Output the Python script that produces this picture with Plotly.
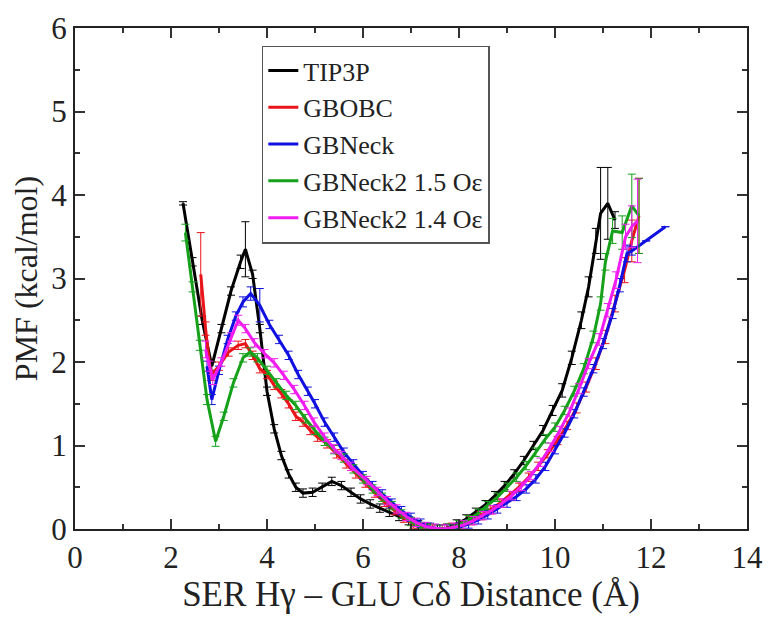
import plotly.graph_objects as go

# ---------------- data ----------------
tip3p_x = [2.25, 2.45, 2.65, 2.85, 3.05, 3.25, 3.45, 3.55, 3.70, 3.85, 4.00, 4.15, 4.30, 4.45, 4.60, 4.75,
           4.95, 5.15, 5.35, 5.55, 5.75, 5.95, 6.15, 6.35, 6.55, 6.75, 6.95, 7.15, 7.35, 7.55, 7.75, 7.95,
           8.15, 8.35, 8.55, 8.75, 8.95, 9.15, 9.35, 9.55, 9.75, 9.95, 10.15, 10.35, 10.55, 10.70, 10.85,
           10.95, 11.10, 11.25]
tip3p_y = [3.90, 3.20, 2.50, 1.95, 2.40, 2.85, 3.20, 3.35, 3.05, 2.40, 1.65, 1.20, 0.88, 0.66, 0.50, 0.43,
           0.44, 0.50, 0.57, 0.52, 0.44, 0.36, 0.30, 0.25, 0.20, 0.15, 0.10, 0.05, 0.02, 0.00, 0.01, 0.06,
           0.12, 0.20, 0.29, 0.40, 0.52, 0.66, 0.82, 1.00, 1.18, 1.42, 1.66, 2.05, 2.50, 2.90, 3.45,
           3.78, 3.90, 3.70]
tip3p_e = [0.02, 0.05, 0.05, 0.05, 0.05, 0.05, 0.08, 0.33, 0.05, 0.05, 0.05, 0.05, 0.05, 0.05, 0.05, 0.05,
           0.05, 0.05, 0.05, 0.05, 0.05, 0.05, 0.05, 0.05, 0.05, 0.05, 0.05, 0.05, 0.05, 0.05, 0.05, 0.05,
           0.05, 0.05, 0.05, 0.05, 0.05, 0.05, 0.05, 0.05, 0.06, 0.06, 0.08, 0.08, 0.10, 0.12, 0.15,
           0.55, 0.43, 0.10]

gbobc_x = [2.62, 2.72, 2.83, 3.00, 3.20, 3.40, 3.55, 3.70, 3.85, 4.00, 4.15, 4.30, 4.45, 4.60, 4.75, 4.90,
           5.05, 5.25, 5.45, 5.65, 5.85, 6.05, 6.25, 6.45, 6.65, 6.85, 7.05, 7.25, 7.45, 7.65, 7.85, 8.05,
           8.25, 8.45, 8.65, 8.85, 9.05, 9.25, 9.45, 9.65, 9.85, 10.05, 10.25, 10.45, 10.65, 10.85, 11.05,
           11.25, 11.45, 11.60, 11.75]
gbobc_y = [3.05, 2.40, 1.84, 1.95, 2.12, 2.20, 2.22, 2.08, 1.92, 1.85, 1.72, 1.62, 1.50, 1.35, 1.28, 1.18,
           1.10, 1.02, 0.90, 0.78, 0.66, 0.55, 0.43, 0.32, 0.22, 0.13, 0.06, 0.02, 0.00, 0.00, 0.02, 0.05,
           0.10, 0.16, 0.23, 0.31, 0.40, 0.50, 0.62, 0.75, 0.90, 1.06, 1.24, 1.45, 1.70, 1.98, 2.30,
           2.70, 3.10, 3.45, 3.75]
gbobc_e = [0.50, 0.08, 0.06, 0.05, 0.05, 0.05, 0.05, 0.05, 0.05, 0.05, 0.05, 0.05, 0.05, 0.05, 0.05, 0.05,
           0.05, 0.05, 0.05, 0.05, 0.05, 0.05, 0.05, 0.05, 0.05, 0.05, 0.05, 0.05, 0.05, 0.05, 0.05, 0.05,
           0.05, 0.05, 0.05, 0.05, 0.05, 0.05, 0.05, 0.05, 0.05, 0.05, 0.05, 0.06, 0.06, 0.07, 0.08,
           0.10, 0.15, 0.25, 0.45]

gbneck_x = [2.75, 2.85, 3.00, 3.18, 3.35, 3.50, 3.66, 3.85, 4.05, 4.25, 4.45, 4.65, 4.85, 5.00, 5.20, 5.40,
            5.60, 5.80, 6.00, 6.20, 6.40, 6.60, 6.80, 7.00, 7.20, 7.40, 7.60, 7.80, 8.00, 8.20, 8.40, 8.60,
            8.80, 9.00, 9.20, 9.40, 9.60, 9.80, 10.00, 10.20, 10.40, 10.60, 10.80, 11.00, 11.20, 11.35,
            11.50, 11.60, 11.90, 12.30]
gbneck_y = [1.95, 1.55, 1.90, 2.27, 2.55, 2.72, 2.82, 2.68, 2.45, 2.27, 2.08, 1.85, 1.65, 1.50, 1.28, 1.10,
            0.92, 0.78, 0.64, 0.52, 0.42, 0.31, 0.22, 0.14, 0.07, 0.02, 0.00, 0.00, 0.02, 0.06, 0.11, 0.17,
            0.24, 0.31, 0.39, 0.48, 0.60, 0.75, 0.95, 1.15, 1.38, 1.64, 1.92, 2.22, 2.58, 2.92,
            3.30, 3.33, 3.45, 3.62]
gbneck_e = [0.06, 0.06, 0.05, 0.05, 0.05, 0.06, 0.08, 0.20, 0.05, 0.05, 0.05, 0.05, 0.05, 0.05, 0.05, 0.05,
            0.05, 0.05, 0.05, 0.05, 0.05, 0.05, 0.05, 0.05, 0.05, 0.05, 0.05, 0.05, 0.05, 0.05, 0.05, 0.05,
            0.05, 0.05, 0.05, 0.05, 0.05, 0.05, 0.05, 0.05, 0.05, 0.05, 0.05, 0.06, 0.06, 0.08,
            0.10, 0.05, 0.00, 0.00]

gbn2_15_x = [2.30, 2.45, 2.60, 2.75, 2.93, 3.10, 3.30, 3.50, 3.65, 3.80, 4.00, 4.20, 4.40, 4.60, 4.80, 5.00,
             5.20, 5.40, 5.60, 5.80, 6.00, 6.20, 6.40, 6.60, 6.80, 7.00, 7.20, 7.40, 7.60, 7.80, 8.00, 8.20,
             8.40, 8.60, 8.80, 9.00, 9.20, 9.40, 9.60, 9.80, 10.00, 10.20, 10.40, 10.60, 10.80, 10.95,
             11.05, 11.20, 11.40, 11.60, 11.75]
gbn2_15_y = [3.55, 2.90, 2.20, 1.55, 1.05, 1.35, 1.75, 2.05, 2.12, 2.05, 1.90, 1.75, 1.60, 1.48, 1.32, 1.18,
             1.05, 0.95, 0.85, 0.72, 0.60, 0.48, 0.38, 0.28, 0.18, 0.09, 0.03, 0.01, 0.00, 0.01, 0.05, 0.11,
             0.19, 0.28, 0.38, 0.50, 0.62, 0.76, 0.92, 1.08, 1.22, 1.42, 1.65, 1.92, 2.30, 2.70,
             3.20, 3.57, 3.55, 3.87, 3.75]
gbn2_15_e = [0.10, 0.06, 0.06, 0.06, 0.06, 0.05, 0.05, 0.05, 0.05, 0.05, 0.05, 0.05, 0.05, 0.05, 0.05, 0.05,
             0.05, 0.05, 0.05, 0.05, 0.05, 0.05, 0.05, 0.05, 0.05, 0.05, 0.05, 0.05, 0.05, 0.05, 0.05, 0.05,
             0.05, 0.05, 0.05, 0.05, 0.05, 0.05, 0.05, 0.05, 0.05, 0.05, 0.06, 0.06, 0.07, 0.08,
             0.10, 0.15, 0.20, 0.38, 0.45]

gbn2_14_x = [2.72, 2.80, 2.87, 3.05, 3.25, 3.40, 3.55, 3.74, 3.95, 4.15, 4.35, 4.57, 4.78, 4.98, 5.20, 5.40,
             5.55, 5.75, 6.08, 6.30, 6.50, 6.70, 6.90, 7.10, 7.30, 7.50, 7.70, 7.90, 8.10, 8.30, 8.50, 8.70,
             8.90, 9.10, 9.30, 9.50, 9.70, 9.90, 10.10, 10.30, 10.50, 10.70, 10.92, 11.10, 11.27, 11.47,
             11.60, 11.72]
gbn2_14_y = [2.15, 1.95, 1.79, 2.00, 2.30, 2.50, 2.40, 2.23, 2.10, 1.99, 1.84, 1.67, 1.48, 1.28, 1.10, 0.96,
             0.88, 0.75, 0.58, 0.45, 0.34, 0.24, 0.15, 0.08, 0.03, 0.01, 0.00, 0.02, 0.05, 0.10, 0.16, 0.23,
             0.31, 0.40, 0.51, 0.64, 0.80, 0.98, 1.18, 1.40, 1.68, 1.98, 2.27, 2.62, 2.98, 3.50,
             3.62, 3.69]
gbn2_14_e = [0.10, 0.06, 0.06, 0.05, 0.05, 0.06, 0.05, 0.05, 0.05, 0.05, 0.05, 0.05, 0.05, 0.05, 0.05, 0.05,
             0.05, 0.05, 0.05, 0.05, 0.05, 0.05, 0.05, 0.05, 0.05, 0.05, 0.05, 0.05, 0.05, 0.05, 0.05, 0.05,
             0.05, 0.05, 0.05, 0.05, 0.05, 0.05, 0.05, 0.05, 0.06, 0.06, 0.07, 0.08, 0.10, 0.15,
             0.25, 0.50]

series = [
    ("TIP3P", tip3p_x, tip3p_y, tip3p_e, "#000000"),
    ("GBOBC", gbobc_x, gbobc_y, gbobc_e, "#e8141a"),
    ("GBNeck", gbneck_x, gbneck_y, gbneck_e, "#1010e0"),
    ("GBNeck2 1.5 Oε", gbn2_15_x, gbn2_15_y, gbn2_15_e, "#16a11a"),
    ("GBNeck2 1.4 Oε", gbn2_14_x, gbn2_14_y, gbn2_14_e, "#f01cf0"),
]

FONT = "Liberation Serif"

fig = go.Figure()
for name, xs, ys, es, col in series:
    fig.add_trace(go.Scatter(
        x=xs, y=ys, mode="lines", name=name,
        line=dict(color=col, width=3),
        error_y=dict(type="data", array=es, visible=True, color=col, thickness=1, width=4),
    ))

axis_common = dict(
    showline=True, linecolor="#222222", linewidth=2, mirror="allticks",
    ticks="inside", ticklen=10, tickwidth=1.5, tickcolor="#333333",
    showgrid=False, zeroline=False,
    tickfont=dict(family=FONT, size=31, color="#222222"),
)

fig.update_xaxes(range=[0, 14], tick0=0, dtick=2,
                 minor=dict(dtick=1, ticklen=5, ticks="inside", tickcolor="#333333"),
                 title=dict(text="SER Hγ – GLU Cδ Distance (Å)", font=dict(family=FONT, size=35, color="#222222"),
                            standoff=0),
                 **axis_common)
fig.update_yaxes(range=[0, 6], tick0=0, dtick=1,
                 minor=dict(dtick=0.5, ticklen=5, ticks="inside", tickcolor="#333333"),
                 title=dict(text="PMF (kcal/mol)", font=dict(family=FONT, size=32, color="#222222"),
                            standoff=4),
                 **axis_common)

# the page body adds an 8px offset, so the figure is 8px smaller than the window
fig.update_layout(
    width=763, height=611,
    margin=dict(l=67, r=24, t=20, b=90, autoexpand=False),
    paper_bgcolor="white", plot_bgcolor="white",
    font=dict(family=FONT, color="#222222"),
    legend=dict(x=0.278, y=0.965, xanchor="left", yanchor="top",
                bgcolor="white", bordercolor="#555555", borderwidth=1.5,
                font=dict(family=FONT, size=26, color="#222222"),
                tracegroupgap=0, itemwidth=30),
    showlegend=True,
)

fig.write_html("out.html")
